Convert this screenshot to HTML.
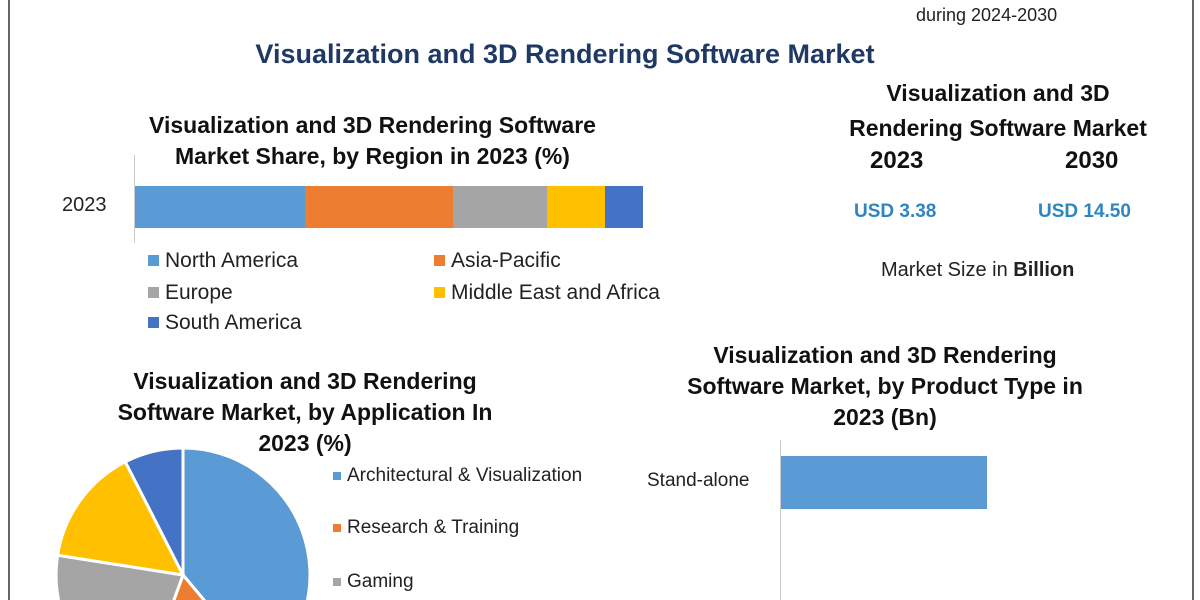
<!DOCTYPE html>
<html><head><meta charset="utf-8"><style>
html,body{margin:0;width:1200px;height:600px;overflow:hidden;}
body{background:#fff;position:relative;font-family:"Liberation Sans",sans-serif;}
.a{position:absolute;white-space:nowrap;}
.t{font-weight:bold;color:#111;font-size:23px;text-align:center;line-height:31px;}
.lg{font-size:21px;color:#222;}
.sq{display:inline-block;width:11px;height:11px;margin-right:6px;vertical-align:1px;}
</style></head><body>
<div class="a" style="left:8px;top:0;width:2px;height:600px;background:#666"></div>
<div class="a" style="left:1192px;top:0;width:2px;height:600px;background:#666"></div>
<div class="a" style="left:916px;top:5px;font-size:18px;color:#222">during 2024-2030</div>
<div class="a" style="left:200px;top:39px;width:730px;text-align:center;font-size:27px;font-weight:bold;color:#1f3864">Visualization and 3D Rendering Software Market</div>

<div class="a t" style="left:100px;top:110px;width:545px">Visualization and 3D Rendering Software<br>Market Share, by Region in 2023 (%)</div>
<div class="a" style="left:62px;top:194px;font-size:20px;color:#222">2023</div>
<div class="a" style="left:134px;top:155px;width:1px;height:88px;background:#ccc"></div>
<div class="a" style="left:135px;top:186px;height:42px;width:170px;background:#5b9bd5"></div>
<div class="a" style="left:305px;top:186px;height:42px;width:148px;background:#ed7d31"></div>
<div class="a" style="left:453px;top:186px;height:42px;width:94px;background:#a5a5a5"></div>
<div class="a" style="left:547px;top:186px;height:42px;width:58px;background:#ffc000"></div>
<div class="a" style="left:605px;top:186px;height:42px;width:38px;background:#4472c4"></div>
<div class="a lg" style="left:148px;top:249px"><span class="sq" style="background:#5b9bd5"></span>North America</div>
<div class="a lg" style="left:434px;top:249px"><span class="sq" style="background:#ed7d31"></span>Asia-Pacific</div>
<div class="a lg" style="left:148px;top:281px"><span class="sq" style="background:#a5a5a5"></span>Europe</div>
<div class="a lg" style="left:434px;top:281px"><span class="sq" style="background:#ffc000"></span>Middle East and Africa</div>
<div class="a lg" style="left:148px;top:311px"><span class="sq" style="background:#4472c4"></span>South America</div>

<div class="a t" style="left:810px;top:76px;width:376px;line-height:35px">Visualization and 3D<br>Rendering Software Market</div>
<div class="a t" style="left:870px;top:145px;font-size:24px">2023</div>
<div class="a t" style="left:1065px;top:145px;font-size:24px">2030</div>
<div class="a" style="left:854px;top:201px;font-size:19px;font-weight:bold;color:#2e86c1">USD 3.38</div>
<div class="a" style="left:1038px;top:201px;font-size:19px;font-weight:bold;color:#2e86c1">USD 14.50</div>
<div class="a" style="left:881px;top:259px;font-size:20px;color:#222">Market Size in <b>Billion</b></div>

<div class="a t" style="left:630px;top:340px;width:510px;line-height:31px">Visualization and 3D Rendering<br>Software Market, by Product Type in<br>2023 (Bn)</div>
<div class="a" style="left:647px;top:470px;font-size:19px;color:#222">Stand-alone</div>
<div class="a" style="left:780px;top:440px;width:1px;height:160px;background:#ccc"></div>
<div class="a" style="left:781px;top:456px;width:206px;height:53px;background:#5b9bd5"></div>

<div class="a t" style="left:60px;top:366px;width:490px;line-height:31px">Visualization and 3D Rendering<br>Software Market, by Application In<br>2023 (%)</div>
<svg class="a" style="left:0;top:0" width="600" height="600">
<g stroke="#fff" stroke-width="3">
<path d="M183,575 L183,448 A127,127 0 0 1 264.6,672.3Z" fill="#5b9bd5"/>
<path d="M183,575 L264.6,672.3 A127,127 0 0 1 139.6,694.3Z" fill="#ed7d31"/>
<path d="M183,575 L139.6,694.3 A127,127 0 0 1 57.6,555.2Z" fill="#a5a5a5"/>
<path d="M183,575 L57.6,555.2 A127,127 0 0 1 125.3,461.8Z" fill="#ffc000"/>
<path d="M183,575 L125.3,461.8 A127,127 0 0 1 183,448Z" fill="#4472c4"/>
</g></svg>
<div class="a lg" style="left:333px;top:465px;font-size:19px"><span class="sq" style="background:#5b9bd5;width:8px;height:8px"></span>Architectural &amp; Visualization</div>
<div class="a lg" style="left:333px;top:517px;font-size:19px"><span class="sq" style="background:#ed7d31;width:8px;height:8px"></span>Research &amp; Training</div>
<div class="a lg" style="left:333px;top:571px;font-size:19px"><span class="sq" style="background:#a5a5a5;width:8px;height:8px"></span>Gaming</div>
</body></html>
